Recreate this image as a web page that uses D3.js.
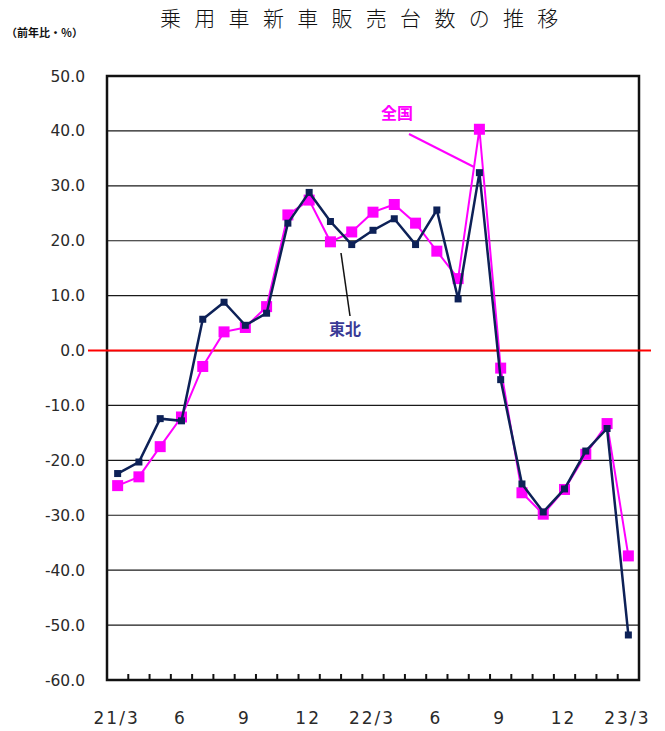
<!DOCTYPE html>
<html>
<head>
<meta charset="utf-8">
<script src="https://cdn.jsdelivr.net/npm/d3@7"></script>
<style>
  html, body { margin: 0; padding: 0; background: #fff; }
  svg { display: block; }
</style>
</head>
<body>
<svg id="chart" width="665" height="731"></svg>
<script>
// Monthly year-on-year change in new passenger car sales (%), 2021/3 – 2023/3
const months = [
  "21/3","21/4","21/5","21/6","21/7","21/8","21/9","21/10","21/11","21/12",
  "22/1","22/2","22/3","22/4","22/5","22/6","22/7","22/8","22/9","22/10","22/11","22/12",
  "23/1","23/2","23/3"
];
// 東北 (Tohoku region)
const tohoku = [
  -22.4, -20.3, -12.4, -12.8, 5.7, 8.8, 4.6, 6.8, 23.2, 28.8,
  23.5, 19.3, 21.9, 24.0, 19.3, 25.6, 9.4, 32.4, -5.3, -24.3, -29.4, -25.2,
  -18.3, -14.2, -51.8
];
// 全国 (nationwide)
const zenkoku = [
  -24.6, -23.0, -17.5, -12.1, -2.9, 3.4, 4.2, 8.0, 24.7, 27.4,
  19.8, 21.6, 25.2, 26.6, 23.2, 18.1, 13.1, 40.3, -3.2, -25.9, -29.8, -25.3,
  -18.9, -13.3, -37.4
];
const yTicks = [50, 40, 30, 20, 10, 0, -10, -20, -30, -40, -50, -60];
const xTickLabels = {"21/3":"21/3","21/6":"6","21/9":"9","21/12":"12","22/3":"22/3","22/6":"6","22/9":"9","22/12":"12","23/3":"23/3"};

const svg = d3.select("#chart");
const plot = { left: 107, right: 639, top: 76, bottom: 680 };

const x = d3.scaleBand().domain(months).range([plot.left, plot.right]).padding(0);
const y = d3.scaleLinear().domain([-60, 50]).range([plot.bottom, plot.top]);
const cx = d => x(d) + x.bandwidth() / 2;

// Title and unit note
svg.append("text")
  .attr("x", 160).attr("y", 26)
  .attr("font-family", "'Noto Sans CJK JP', sans-serif")
  .attr("font-weight", 300)
  .attr("font-size", 21)
  .attr("letter-spacing", "13.3px")
  .attr("fill", "#111")
  .text("乗用車新車販売台数の推移");

svg.append("text")
  .attr("x", 6).attr("y", 37)
  .attr("font-family", "'Noto Sans CJK JP', sans-serif")
  .attr("font-weight", 700)
  .attr("font-size", 11)
  .attr("fill", "#111")
  .text("（前年比・％）");

// Horizontal gridlines
svg.append("g")
  .selectAll("line")
  .data(yTicks.filter(t => t !== -60 && t !== 50))
  .join("line")
  .attr("x1", plot.left).attr("x2", plot.right)
  .attr("y1", d => y(d)).attr("y2", d => y(d))
  .attr("stroke", "#1a1a1a").attr("stroke-width", 1.2);

// Y axis tick labels
svg.append("g")
  .selectAll("text")
  .data(yTicks)
  .join("text")
  .attr("x", 85)
  .attr("y", d => y(d) + 1)
  .attr("text-anchor", "end")
  .attr("dominant-baseline", "middle")
  .attr("font-family", "'DejaVu Sans', sans-serif")
  .attr("font-size", 15.5)
  .attr("fill", "#2a2a2a")
  .text(d => d.toFixed(1));

// Frame
svg.append("rect")
  .attr("x", plot.left).attr("y", plot.top)
  .attr("width", plot.right - plot.left).attr("height", plot.bottom - plot.top)
  .attr("fill", "none").attr("stroke", "#111").attr("stroke-width", 2.5);

// X axis ticks (inward, at month boundaries)
const boundaries = months.slice(1).map(m => x(m));
svg.append("g")
  .selectAll("line")
  .data(boundaries)
  .join("line")
  .attr("x1", d => d).attr("x2", d => d)
  .attr("y1", plot.bottom).attr("y2", plot.bottom - 6)
  .attr("stroke", "#111").attr("stroke-width", 2);

// X axis labels
svg.append("g")
  .selectAll("text")
  .data(months.filter(m => xTickLabels[m]))
  .join("text")
  .attr("x", d => cx(d) - 1)
  .attr("y", 724)
  .attr("text-anchor", "middle")
  .attr("font-family", "'DejaVu Sans', sans-serif")
  .attr("font-size", 17)
  .attr("letter-spacing", "2px")
  .attr("fill", "#2a2a2a")
  .text(d => xTickLabels[d]);

// Zero line
svg.append("line")
  .attr("x1", 88).attr("x2", 651)
  .attr("y1", y(0)).attr("y2", y(0))
  .attr("stroke", "#ff0000").attr("stroke-width", 2);

const line = d3.line().x((d, i) => cx(months[i])).y(d => y(d));

// 全国 series
svg.append("path")
  .datum(zenkoku)
  .attr("d", line)
  .attr("fill", "none").attr("stroke", "#ff00ff").attr("stroke-width", 2);
svg.append("g")
  .selectAll("rect")
  .data(zenkoku)
  .join("rect")
  .attr("x", (d, i) => cx(months[i]) - 5.5)
  .attr("y", d => y(d) - 5.5)
  .attr("width", 11).attr("height", 11)
  .attr("fill", "#ff00ff");

// 東北 series
svg.append("path")
  .datum(tohoku)
  .attr("d", line)
  .attr("fill", "none").attr("stroke", "#0d2157").attr("stroke-width", 2.5);
svg.append("g")
  .selectAll("rect")
  .data(tohoku)
  .join("rect")
  .attr("x", (d, i) => cx(months[i]) - 3.5)
  .attr("y", d => y(d) - 3.5)
  .attr("width", 7).attr("height", 7)
  .attr("fill", "#0d2157");

// Series callouts
svg.append("line")
  .attr("x1", 409).attr("y1", 134).attr("x2", 474).attr("y2", 167)
  .attr("stroke", "#ff00ff").attr("stroke-width", 2);
svg.append("text")
  .attr("x", 381).attr("y", 119)
  .attr("font-family", "'Noto Sans CJK JP', sans-serif")
  .attr("font-weight", 700)
  .attr("font-size", 16)
  .attr("fill", "#ff00ff")
  .text("全国");

svg.append("line")
  .attr("x1", 341).attr("y1", 253).attr("x2", 350).attr("y2", 316)
  .attr("stroke", "#111").attr("stroke-width", 1.5);
svg.append("text")
  .attr("x", 329).attr("y", 335)
  .attr("font-family", "'Noto Sans CJK JP', sans-serif")
  .attr("font-weight", 700)
  .attr("font-size", 16)
  .attr("fill", "#3a3a96")
  .text("東北");
</script>
</body>
</html>
